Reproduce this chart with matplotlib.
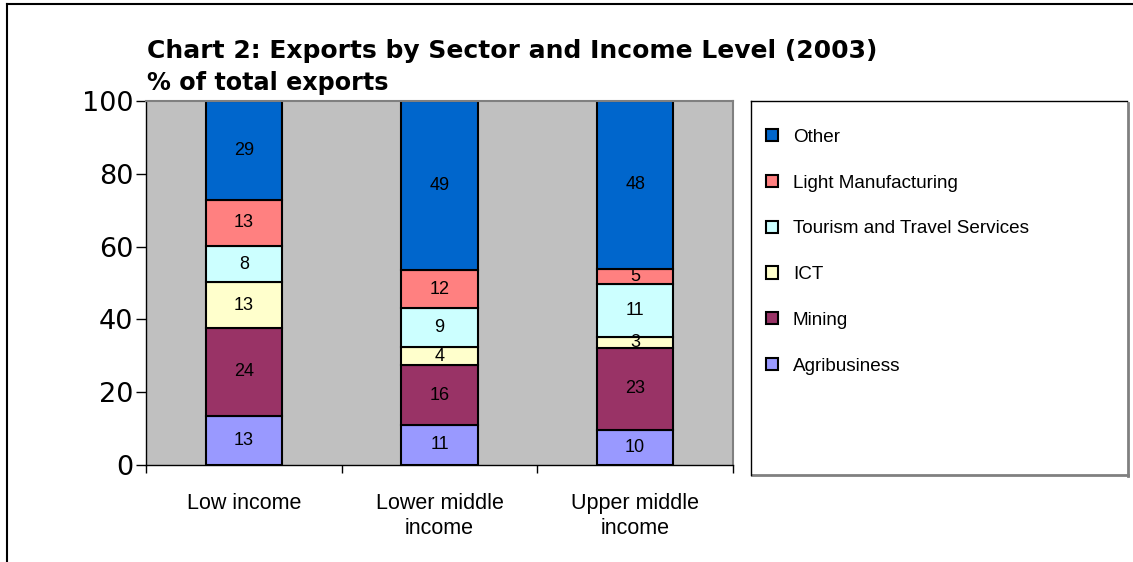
import matplotlib.pyplot as plt
from matplotlib.patches import Patch
from matplotlib.lines import Line2D
import numpy as np

plt.rcParams['font.family'] = ['Liberation Sans', 'DejaVu Sans']

categories = ['Low income', 'Lower middle\nincome', 'Upper middle\nincome']
sectors = ['Agribusiness', 'Mining', 'ICT', 'Tourism and Travel Services',
           'Light Manufacturing', 'Other']
colors = ['#9999FF', '#993366', '#FFFFCC', '#CCFFFF', '#FF8080', '#0066CC']

# segment heights as drawn
agri = [13.5, 11.0, 9.6]
mining = [24.2, 16.4, 22.6]
ict = [12.5, 4.9, 3.0]
tourism = [10.0, 10.7, 14.5]
light = [12.7, 10.6, 4.2]
other = [27.1, 46.4, 46.1]

# numbers printed on the segments
agri_lbl = [13, 11, 10]
mining_lbl = [24, 16, 23]
ict_lbl = [13, 4, 3]
tourism_lbl = [8, 9, 11]
light_lbl = [13, 12, 5]
other_lbl = [29, 49, 48]

series = [agri, mining, ict, tourism, light, other]
labels = [agri_lbl, mining_lbl, ict_lbl, tourism_lbl, light_lbl, other_lbl]

W, H = 1133, 562
fig = plt.figure(figsize=(W / 100, H / 100), dpi=100)
ax = fig.add_axes([146 / W, 1 - 465 / H, 587 / W, 364 / H])
ax.set_facecolor('#C0C0C0')

x = np.arange(len(categories))
bottom = np.zeros(len(categories))
for vals, lbls, c in zip(series, labels, colors):
    ax.bar(x, vals, 0.39, bottom=bottom, color=c, edgecolor='black', linewidth=1.5, zorder=2)
    for xi, b, v, l in zip(x, bottom, vals, lbls):
        ax.text(xi, b + v / 2, str(l), ha='center', va='center', fontsize=13, zorder=3)
    bottom += np.array(vals)

ax.set_xlim(-0.5, 2.5)
ax.set_ylim(0, 100)
ax.set_yticks(range(0, 101, 20))
ax.tick_params(axis='y', labelsize=19.5, length=7, width=1, pad=2)
for t in ax.get_yticklabels():
    t.set_family('DejaVu Sans')
ax.set_xticks(x)
ax.set_xticklabels(categories, fontsize=15.5, linespacing=1.25)
ax.tick_params(axis='x', which='major', length=0, pad=20)
ax.set_xticks([-0.5, 0.5, 1.5, 2.5], minor=True)
ax.tick_params(axis='x', which='minor', length=6, width=1)
for s in ['top', 'right']:
    ax.spines[s].set_color('#808080')
    ax.spines[s].set_linewidth(1.5)
for s in ['left', 'bottom']:
    ax.spines[s].set_linewidth(1)

fig.text(147 / W, 1 - 58 / H, 'Chart 2: Exports by Sector and Income Level (2003)',
         fontsize=18, fontweight='bold', va='baseline', family='DejaVu Sans')
fig.text(147 / W, 1 - 90 / H, '% of total exports', fontsize=17.2, fontweight='bold',
         va='baseline', family='DejaVu Sans')

# legend box
fig.add_artist(Line2D([1128 / W, 1128 / W], [1 - 103 / H, 1 - 476 / H], color='#808080', lw=2))
fig.add_artist(Line2D([752 / W, 1128 / W], [1 - 475 / H, 1 - 475 / H], color='#808080', lw=2))
fig.add_artist(Line2D([751 / W, 1127 / W], [1 - 101 / H, 1 - 101 / H], color='black', lw=1))
fig.add_artist(Line2D([751 / W, 751 / W], [1 - 101 / H, 1 - 475 / H], color='black', lw=1))

handles = [Patch(facecolor=c, edgecolor='black', linewidth=1.5) for c in colors][::-1]
fig.legend(handles, sectors[::-1], loc='upper left', bbox_to_anchor=(766 / W, 1 - 129 / H),
           frameon=False, fontsize=13.6, handlelength=0.62, handleheight=0.62,
           handletextpad=0.8, labelspacing=1.52, borderaxespad=0, borderpad=0)

# outer frame
fig.add_artist(Line2D([7 / W, 1], [1 - 4 / H, 1 - 4 / H], color='black', lw=1.5))
fig.add_artist(Line2D([7 / W, 7 / W], [1 - 4 / H, 0], color='black', lw=1.5))

fig.savefig('out.png', dpi=100)
